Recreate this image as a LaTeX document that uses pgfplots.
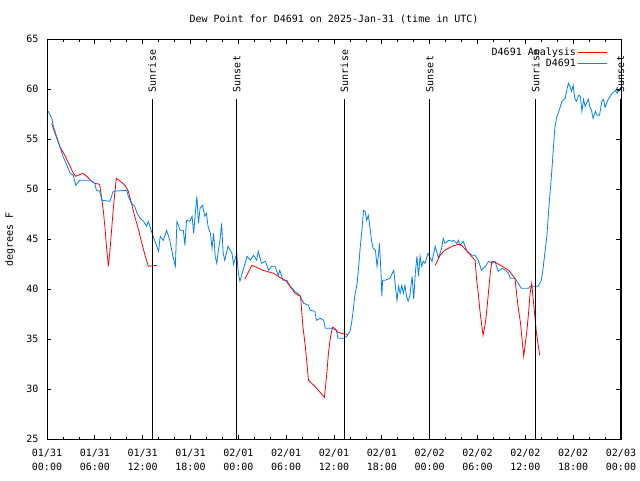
\documentclass[border=0pt]{standalone}
\usepackage{fontspec}
\setmainfont{DejaVu Sans Mono}
\usepackage{pgfplots}
\pgfplotsset{compat=1.18}
\definecolor{dblue}{RGB}{0,128,255}
\begin{document}
\fontsize{10}{12}\selectfont
\begin{tikzpicture}
\path[use as bounding box] (-47pt,-40.7pt) rectangle (593pt,439.3pt);
\begin{axis}[
  at={(0,0)}, anchor=south west,
  scale only axis, width=574pt, height=400pt,
  xmin=0, xmax=72, ymin=25, ymax=65,
  xtick={0,6,...,72}, minor x tick num=2,
  xticklabels={{01/31\\00:00},{01/31\\06:00},{01/31\\12:00},{01/31\\18:00},{02/01\\00:00},{02/01\\06:00},{02/01\\12:00},{02/01\\18:00},{02/02\\00:00},{02/02\\06:00},{02/02\\12:00},{02/02\\18:00},{02/03\\00:00}},
  ytick={25,30,...,65},
  major tick length=4.5pt, minor tick length=2.7pt,
  tick style={black, line width=0.7pt},
  axis line style={line width=0.8pt},
  /pgf/number format/assume math mode=true,
  x tick label style={align=center, font=\fontsize{10}{14}\selectfont, yshift=-6pt},
  y tick label style={font=\fontsize{10}{12}\selectfont, xshift=-5pt},
  title={Dew Point for D4691 on 2025-Jan-31 (time in UTC)},
  title style={at={(axis description cs:0.5,1)}, anchor=center, yshift=14pt, font=\fontsize{10}{12}\selectfont},
  ylabel={degrees F},
  ylabel style={at={(axis description cs:-0.064,0.5)}, anchor=center, font=\fontsize{10}{12}\selectfont},
  legend style={draw=none, fill=none, at={(axis description cs:1,1)}, anchor=north east, xshift=-10pt, yshift=-4pt, row sep=-2pt, font=\fontsize{10}{12}\selectfont},
  legend cell align=right,
  legend plot pos=right,
  legend image code/.code={\draw[#1] (0pt,0pt) -- (29pt,0pt);},
  clip=false,
]
% Analysis (red), segment 1
\addplot[red, line width=0.8pt] coordinates {
(0.6,56.6) (1.0,55.6) (1.6,54.3) (2.3,53.3) (2.9,52.3) (3.3,51.6) (3.6,51.3) (4.5,51.6) (5.0,51.3) (5.6,50.8) (6.0,50.6) (6.6,50.5) (6.9,48.9) (7.1,47.6) (7.3,45.9) (7.5,43.9) (7.7,42.3) (7.9,43.9) (8.1,45.9) (8.3,47.9) (8.5,49.6) (8.7,51.1) (9.2,50.8) (9.8,50.4) (10.2,49.8) (10.6,48.6) (11.0,47.3) (11.5,45.9) (11.9,44.6) (12.3,43.4) (12.7,42.3) (13.8,42.4)
};
\addlegendentry{D4691 Analysis}
% Observations (blue)
\addplot[dblue, line width=0.8pt] coordinates {
(0.16,57.8) (0.6,57.1) (0.8,56.3) (1.2,55.3) (1.6,54.3) (2.0,53.3) (2.5,52.4) (2.9,51.6) (3.3,51.4) (3.6,50.4) (4.1,50.9) (5.4,50.9) (6.0,50.6) (6.2,49.9) (6.6,49.8) (6.9,48.9) (7.9,48.8) (8.3,49.8) (10.0,49.9) (10.2,49.3) (10.6,48.6) (11.0,48.3) (11.3,47.6) (11.7,47.1) (12.1,46.8) (12.5,46.3) (12.7,46.8) (13.1,45.8) (13.5,44.9) (14.0,43.8) (14.2,45.3) (14.6,44.9) (15.0,45.9) (15.4,44.9) (15.8,43.3) (16.1,42.3) (16.3,46.8) (16.7,45.9) (17.1,45.9) (17.3,44.4) (17.5,46.9) (17.9,46.8) (18.2,47.3) (18.4,45.6) (18.6,47.6) (18.8,49.3) (19.0,46.6) (19.2,48.1) (19.5,48.4) (19.8,47.3) (20.0,47.6) (20.2,46.3) (20.5,45.6) (20.7,44.1) (20.9,45.6) (21.1,43.3) (21.3,42.6) (21.5,43.9) (21.7,44.9) (21.9,46.6) (22.1,43.6) (22.3,42.9) (22.7,44.3) (23.2,43.6) (23.4,42.5) (23.8,43.6) (24.0,41.6) (24.2,40.8) (24.6,41.9) (25.1,43.3) (25.5,42.9) (25.9,43.4) (26.3,42.9) (26.5,43.8) (26.9,42.6) (27.4,42.8) (27.8,41.9) (28.2,42.3) (28.6,42.3) (29.0,41.4) (29.2,41.9) (29.6,40.9) (30.1,40.9) (30.5,40.3) (31.1,39.8) (31.7,39.4) (32.2,38.6) (32.8,38.4) (33.0,37.9) (33.6,37.8) (33.8,36.9) (34.3,37.1) (34.7,36.9) (34.9,36.1) (35.7,36.1) (36.3,35.9) (36.5,35.1) (37.2,35.1) (37.6,35.3) (38.0,35.8) (38.2,36.6) (38.4,37.8) (38.6,39.3) (38.9,40.6) (39.1,42.3) (39.3,44.3) (39.5,45.9) (39.7,47.9) (39.9,47.8) (40.1,46.9) (40.3,47.4) (40.5,46.3) (40.7,44.9) (40.9,44.1) (41.2,43.9) (41.4,42.3) (41.6,43.6) (41.7,44.6) (41.9,41.6) (42.0,39.3) (42.1,40.9) (42.4,40.9) (43.0,41.1) (43.5,41.9) (43.7,40.3) (43.9,38.9) (44.1,40.3) (44.3,39.6) (44.5,40.4) (44.7,39.6) (44.9,40.4) (45.1,39.3) (45.3,38.8) (45.5,39.3) (45.8,41.3) (46.0,39.0) (46.2,41.6) (46.4,43.3) (46.6,41.3) (46.8,43.3) (47.0,42.3) (47.2,42.8) (47.4,42.6) (47.8,43.6) (48.3,42.8) (48.7,44.3) (49.1,43.1) (49.5,44.1) (49.7,45.1) (49.9,44.6) (50.4,44.9) (50.8,44.8) (51.0,44.9) (51.4,44.6) (51.6,44.9) (51.8,44.4) (52.2,44.8) (52.4,44.4) (52.7,43.8) (53.3,43.4) (53.7,43.4) (54.1,42.9) (54.5,41.9) (55.0,42.3) (55.4,42.8) (55.8,42.6) (56.2,42.8) (56.6,41.8) (57.1,42.1) (57.5,41.9) (57.9,41.6) (58.1,41.1) (58.7,41.1) (59.5,40.1) (60.4,40.1) (60.6,40.3) (61.0,40.3) (61.6,40.3) (62.0,40.9) (62.2,41.9) (62.4,43.3) (62.7,45.3) (62.9,47.6) (63.1,49.6) (63.3,51.6) (63.5,53.9) (63.7,56.1) (63.9,57.1) (64.4,58.3) (64.6,58.8) (65.0,59.1) (65.2,59.9) (65.4,60.6) (65.6,60.3) (65.8,59.8) (66.0,60.4) (66.2,59.1) (66.4,58.8) (66.7,59.4) (66.9,59.3) (67.1,57.8) (67.3,59.0) (67.5,58.3) (67.9,59.0) (68.1,58.2) (68.3,57.9) (68.5,57.1) (68.8,57.8) (69.0,57.4) (69.3,57.4) (69.6,58.8) (69.8,59.0) (70.0,58.2) (70.4,59.0) (70.9,59.6) (71.3,59.9) (71.5,59.6) (71.9,60.1)
};
\addlegendentry{D4691}
% Analysis segments 2 and 3
\addplot[red, line width=0.8pt, forget plot] coordinates {
(24.8,41.0) (25.7,42.4) (27.1,41.9) (28.4,41.6) (29.2,41.2) (29.9,40.9) (30.5,40.3) (31.1,39.6) (31.8,39.3) (31.9,38.3) (32.1,36.3) (32.4,34.3) (32.6,32.6) (32.8,30.9) (33.6,30.3) (34.8,29.2) (35.1,31.6) (35.3,33.6) (35.5,34.9) (35.8,36.2) (36.1,36.1) (36.5,35.7) (37.4,35.5) (37.7,35.5)
};
\addplot[red, line width=0.8pt, forget plot] coordinates {
(48.7,42.4) (49.3,43.4) (49.9,43.9) (50.8,44.3) (51.6,44.5) (52.0,44.4) (52.7,43.8) (53.7,42.9) (53.9,40.9) (54.1,39.6) (54.3,37.9) (54.5,36.6) (54.7,35.4) (55.0,36.7) (55.2,38.2) (55.4,39.9) (55.6,41.6) (55.8,42.8) (56.2,42.7) (57.1,42.3) (57.9,41.9) (58.7,41.1) (58.9,39.6) (59.1,38.2) (59.4,36.6) (59.6,34.9) (59.8,33.3) (60.0,34.6) (60.2,35.9) (60.4,37.6) (60.6,39.6) (60.8,40.6) (61.0,38.9) (61.2,37.3) (61.4,35.6) (61.8,33.4)
};
% Sunrise / sunset lines
\addplot[black, line width=1.2pt, forget plot] coordinates {(13.2,25) (13.2,59)};
\addplot[black, line width=1.2pt, forget plot] coordinates {(23.8,25) (23.8,59)};
\addplot[black, line width=1.2pt, forget plot] coordinates {(37.3,25) (37.3,59)};
\addplot[black, line width=1.2pt, forget plot] coordinates {(48.0,25) (48.0,59)};
\addplot[black, line width=1.2pt, forget plot] coordinates {(61.3,25) (61.3,59)};
\addplot[black, line width=1.2pt, forget plot] coordinates {(71.95,25) (71.95,59)};
\node[rotate=90, anchor=west, inner sep=0pt] at (axis cs:13.2,59.7) {Sunrise};
\node[rotate=90, anchor=west, inner sep=0pt] at (axis cs:23.8,59.7) {Sunset};
\node[rotate=90, anchor=west, inner sep=0pt] at (axis cs:37.3,59.7) {Sunrise};
\node[rotate=90, anchor=west, inner sep=0pt] at (axis cs:48.0,59.7) {Sunset};
\node[rotate=90, anchor=west, inner sep=0pt] at (axis cs:61.3,59.7) {Sunrise};
\node[rotate=90, anchor=west, inner sep=0pt] at (axis cs:71.95,59.7) {Sunset};
\end{axis}
\end{tikzpicture}
\end{document}
